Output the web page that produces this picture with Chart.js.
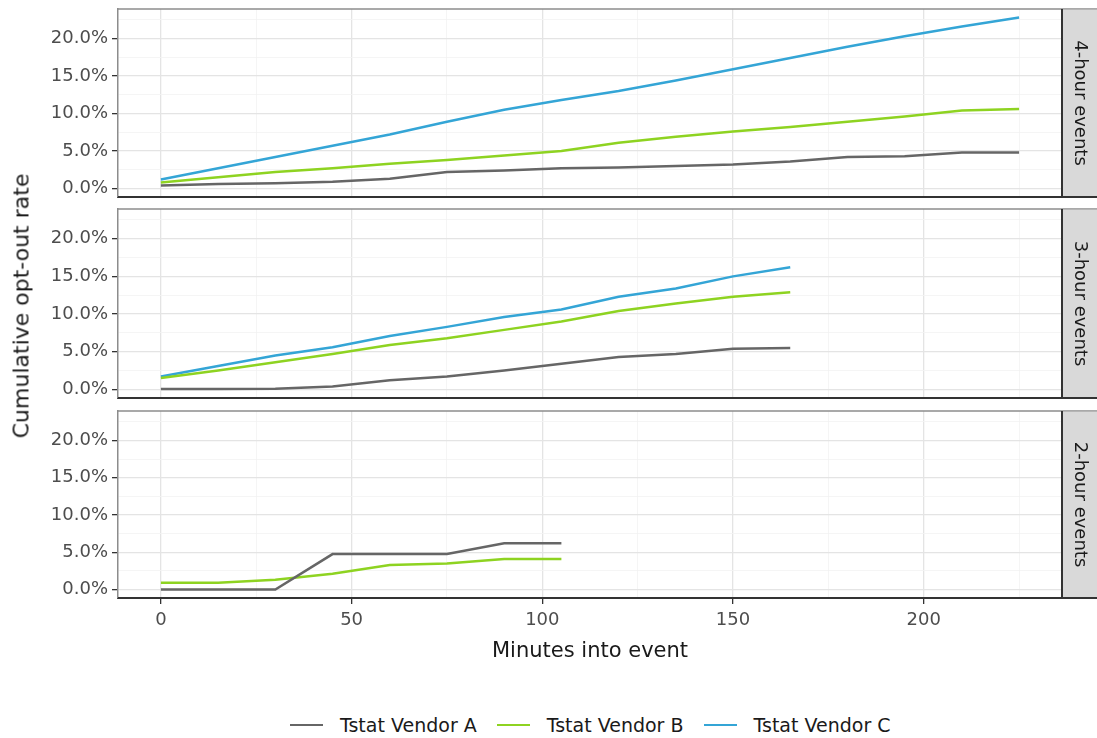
<!DOCTYPE html>
<html>
<head>
<meta charset="utf-8">
<script src="https://cdn.jsdelivr.net/npm/chart.js@4"></script>
<style>
  body { margin: 0; background: #fff; }
  #wrap { position: relative; width: 1097px; height: 738px; font-family: 'DejaVu Sans', sans-serif; }
  canvas { position: absolute; left: 0; }
  .ytitle {
    position: absolute; left: 21px; top: 306px;
    transform: translate(-50%, -50%) rotate(-90deg);
    white-space: nowrap; font-size: 22px; color: #1a1a1a;
  }
  .legend {
    position: absolute; left: 290px; top: 712px; height: 26px;
    display: flex; align-items: center; gap: 20px;
    font-size: 19px; color: #1a1a1a; white-space: nowrap;
  }
  .legend .item { display: flex; align-items: center; }
  .legend .swatch { width: 33px; height: 2.5px; margin-right: 17px; }
</style>
</head>
<body>
<div id="wrap">
  <canvas id="panel4" width="1097" height="200" style="top:0px"></canvas>
  <canvas id="panel3" width="1097" height="202" style="top:200px"></canvas>
  <canvas id="panel2" width="1097" height="270" style="top:402px"></canvas>
  <div class="ytitle">Cumulative opt-out rate</div>
  <div class="legend" id="legend"></div>
</div>
<script>
(function() {
  // Series names and line colours
  const vendors = ['Tstat Vendor A', 'Tstat Vendor B', 'Tstat Vendor C'];
  const colors = ['#666666', '#8ed321', '#34a5d6'];

  // Minutes into event (one point every 15 minutes)
  const minutes4h = [0, 15, 30, 45, 60, 75, 90, 105, 120, 135, 150, 165, 180, 195, 210, 225];
  const minutes3h = [0, 15, 30, 45, 60, 75, 90, 105, 120, 135, 150, 165];
  const minutes2h = [0, 15, 30, 45, 60, 75, 90, 105];

  // Cumulative opt-out rate, percent
  const vendorA4h = [0.4, 0.6, 0.7, 0.9, 1.3, 2.2, 2.4, 2.7, 2.8, 3.0, 3.2, 3.6, 4.2, 4.3, 4.8, 4.8];
  const vendorB4h = [0.8, 1.5, 2.2, 2.7, 3.3, 3.8, 4.4, 5.0, 6.1, 6.9, 7.6, 8.2, 8.9, 9.6, 10.4, 10.6];
  const vendorC4h = [1.2, 2.7, 4.2, 5.7, 7.2, 8.9, 10.5, 11.8, 13.0, 14.4, 15.9, 17.4, 18.9, 20.3, 21.6, 22.8];

  const vendorA3h = [0.05, 0.05, 0.1, 0.4, 1.2, 1.7, 2.5, 3.4, 4.3, 4.7, 5.4, 5.5];
  const vendorB3h = [1.5, 2.5, 3.6, 4.7, 5.9, 6.8, 7.9, 9.0, 10.4, 11.4, 12.3, 12.9];
  const vendorC3h = [1.7, 3.1, 4.5, 5.6, 7.1, 8.3, 9.6, 10.6, 12.3, 13.4, 15.0, 16.2];

  const vendorA2h = [0, 0, 0, 4.75, 4.75, 4.75, 6.2, 6.2];
  const vendorB2h = [0.9, 0.9, 1.3, 2.1, 3.3, 3.5, 4.1, 4.1];

  // Axis ticks (major ones get labels, minor ones only a grid line)
  const xTicks = [0, 25, 50, 75, 100, 125, 150, 175, 200, 225];
  const yTicks = [0, 2.5, 5, 7.5, 10, 12.5, 15, 17.5, 20, 22.5];

  const FONT = "'DejaVu Sans', sans-serif";
  Chart.defaults.font.family = FONT;

  // Build {x, y} points from a minutes list and a values list
  function toPoints(xs, ys) {
    return xs.map((x, i) => ({ x: x, y: ys[i] }));
  }

  // Facet strip on the right and light top border of the panel
  const stripPlugin = {
    id: 'strip',
    afterDraw(chart, args, opts) {
      const { ctx, chartArea } = chart;
      ctx.save();
      // top border
      ctx.strokeStyle = '#8c8c8c';
      ctx.lineWidth = 1.5;
      ctx.beginPath();
      ctx.moveTo(chartArea.left, chartArea.top);
      ctx.lineTo(chart.width, chartArea.top);
      ctx.stroke();
      // strip box
      ctx.fillStyle = '#d9d9d9';
      ctx.fillRect(chartArea.right, chartArea.top + 0.75, chart.width - chartArea.right, chartArea.bottom - chartArea.top - 0.75);
      ctx.strokeStyle = '#333333';
      ctx.lineWidth = 2;
      ctx.beginPath();
      ctx.moveTo(chartArea.right, chartArea.top);
      ctx.lineTo(chartArea.right, chartArea.bottom);
      ctx.moveTo(chartArea.left, chartArea.bottom);
      ctx.lineTo(chart.width, chartArea.bottom);
      ctx.stroke();
      // strip label, rotated
      ctx.translate((chartArea.right + chart.width) / 2, (chartArea.top + chartArea.bottom) / 2);
      ctx.rotate(Math.PI / 2);
      ctx.fillStyle = '#1a1a1a';
      ctx.font = '18px ' + FONT;
      ctx.textAlign = 'center';
      ctx.textBaseline = 'middle';
      ctx.fillText(opts.label, 0, 0);
      ctx.restore();
    }
  };

  function isMajor(v, step) {
    return Math.abs(v / step - Math.round(v / step)) < 1e-6;
  }

  function makePanel(id, label, series, showX, padTop, padBottom) {
    const datasets = series.map(s => ({
      label: s.name,
      data: s.data,
      borderColor: s.color,
      backgroundColor: s.color,
      borderWidth: 2.5,
      pointRadius: 0,
      tension: 0,
      fill: false
    }));

    new Chart(document.getElementById(id), {
      type: 'line',
      data: { datasets: datasets },
      plugins: [stripPlugin],
      options: {
        responsive: false,
        animation: false,
        layout: { padding: { left: 0, right: 35, top: padTop, bottom: padBottom } },
        plugins: {
          legend: { display: false },
          tooltip: { enabled: false },
          strip: { label: label }
        },
        scales: {
          x: {
            type: 'linear',
            min: -11.25,
            max: 236.25,
            afterBuildTicks: scale => { scale.ticks = xTicks.map(v => ({ value: v })); },
            afterFit: scale => {
              scale.height = showX ? 74 : 0;
              scale.paddingLeft = 0;
              scale.paddingRight = 0;
            },
            grid: {
              color: c => isMajor(c.tick.value, 50) ? '#e4e4e4' : '#f2f2f2',
              lineWidth: c => isMajor(c.tick.value, 50) ? 1.3 : 0.8,
              drawTicks: showX,
              tickLength: 6,
              tickWidth: 1.3,
              tickColor: c => isMajor(c.tick.value, 50) ? '#333333' : 'rgba(0,0,0,0)'
            },
            border: { color: '#333333', width: 2 },
            ticks: {
              display: showX,
              autoSkip: false,
              maxRotation: 0,
              padding: 6,
              color: '#4d4d4d',
              font: { size: 18 },
              callback: v => isMajor(v, 50) ? String(v) : ''
            },
            title: {
              display: showX,
              text: 'Minutes into event',
              color: '#1a1a1a',
              font: { size: 21 },
              padding: { top: 0, bottom: 8 }
            }
          },
          y: {
            type: 'linear',
            min: -1.14,
            max: 23.94,
            afterBuildTicks: scale => { scale.ticks = yTicks.map(v => ({ value: v })); },
            afterFit: scale => {
              scale.width = 118;
              scale.paddingTop = 0;
              scale.paddingBottom = 0;
            },
            grid: {
              color: c => isMajor(c.tick.value, 5) ? '#e4e4e4' : '#f2f2f2',
              lineWidth: c => isMajor(c.tick.value, 5) ? 1.3 : 0.8,
              tickLength: 6,
              tickWidth: 1.3,
              tickColor: c => isMajor(c.tick.value, 5) ? '#333333' : 'rgba(0,0,0,0)'
            },
            border: { color: '#8c8c8c', width: 1.5 },
            ticks: {
              autoSkip: false,
              padding: 4,
              color: '#4d4d4d',
              font: { size: 18 },
              callback: v => isMajor(v, 5) ? v.toFixed(1) + '%' : ''
            }
          }
        }
      }
    });
  }

  makePanel('panel4', '4-hour events', [
    { name: vendors[0], color: colors[0], data: toPoints(minutes4h, vendorA4h) },
    { name: vendors[1], color: colors[1], data: toPoints(minutes4h, vendorB4h) },
    { name: vendors[2], color: colors[2], data: toPoints(minutes4h, vendorC4h) }
  ], false, 9, 3);

  makePanel('panel3', '3-hour events', [
    { name: vendors[0], color: colors[0], data: toPoints(minutes3h, vendorA3h) },
    { name: vendors[1], color: colors[1], data: toPoints(minutes3h, vendorB3h) },
    { name: vendors[2], color: colors[2], data: toPoints(minutes3h, vendorC3h) }
  ], false, 9, 4);

  makePanel('panel2', '2-hour events', [
    { name: vendors[0], color: colors[0], data: toPoints(minutes2h, vendorA2h) },
    { name: vendors[1], color: colors[1], data: toPoints(minutes2h, vendorB2h) }
  ], true, 9, 0);

  // Shared legend under the panels
  const legend = document.getElementById('legend');
  vendors.forEach((name, i) => {
    const item = document.createElement('div');
    item.className = 'item';
    item.innerHTML = '<span class="swatch" style="background:' + colors[i] + '"></span><span>' + name + '</span>';
    legend.appendChild(item);
  });
})();
</script>
</body>
</html>
